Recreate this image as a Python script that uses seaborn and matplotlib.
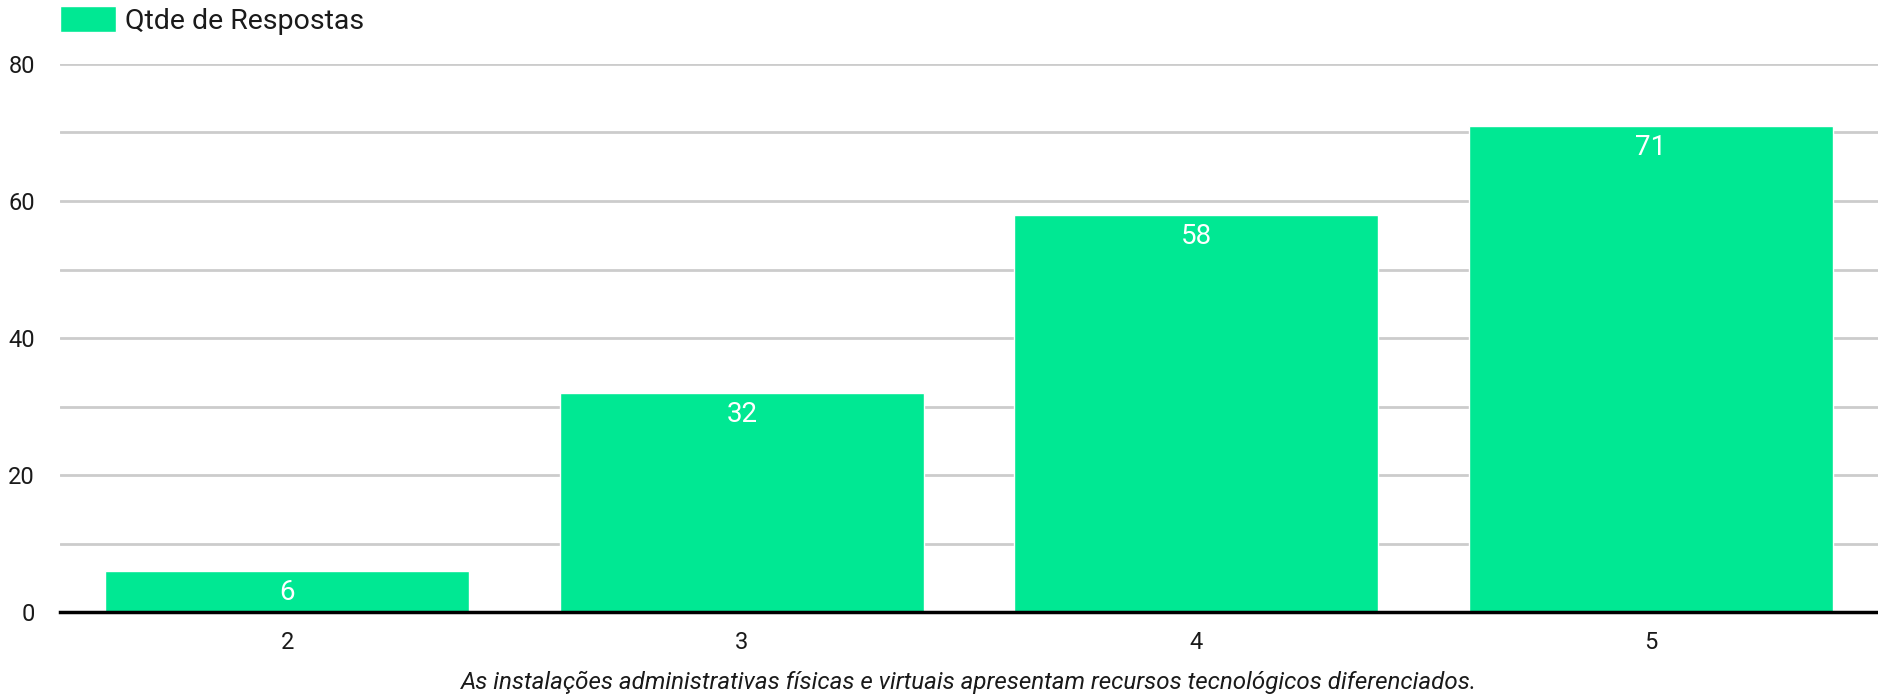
import matplotlib
matplotlib.use("Agg")
import matplotlib.pyplot as plt
import seaborn as sns
import pandas as pd
from matplotlib.ticker import MultipleLocator

categories = ["2", "3", "4", "5"]
values = [6, 32, 58, 71]
series_name = "Qtde de Respostas"
x_title = "As instalações administrativas físicas e virtuais apresentam recursos tecnológicos diferenciados."

sns.set_theme(style="white")
plt.rcParams["font.family"] = ["Roboto", "DejaVu Sans"]

W, H = 1878, 697
fig = plt.figure(figsize=(W / 100, H / 100), dpi=100)
ax = fig.add_axes([60 / W, 1 - 612 / H, (W - 60) / W, (612 - 64) / H])

df = pd.DataFrame({"cat": categories, "val": values})
color = "#00E893"
sns.barplot(data=df, x="cat", y="val", color=color, saturation=1, width=0.8, ax=ax,
            label=series_name, zorder=3)

ax.set_ylim(0, 80)
ax.set_xlim(-0.5, len(categories) - 0.5)
ax.yaxis.set_major_locator(MultipleLocator(20))
ax.yaxis.set_minor_locator(MultipleLocator(10))
ax.grid(axis="y", which="both", color="#cccccc", linewidth=2, zorder=0)
ax.grid(axis="x", visible=False)
for s in ["top", "right", "left"]:
    ax.spines[s].set_visible(False)
ax.spines["bottom"].set_color("black")
ax.spines["bottom"].set_linewidth(2.5)
ax.spines["bottom"].set_zorder(5)

ax.tick_params(axis="y", which="both", length=0, labelsize=17, pad=18, labelcolor="#1a1a1a")
ax.tick_params(axis="x", length=0, labelsize=17, pad=14, labelcolor="#1a1a1a")
ax.set_ylabel("")
ax.set_xlabel(x_title, fontsize=17.4, style="italic", color="#1a1a1a", labelpad=12)

for p in ax.patches:
    h = p.get_height()
    ax.annotate(f"{int(round(h))}", (p.get_x() + p.get_width() / 2, h),
                xytext=(0, -6), textcoords="offset points", ha="center", va="top",
                fontsize=20, color="white", zorder=6)

handles, labels = ax.get_legend_handles_labels()
ax.legend(handles, labels, loc="upper left", bbox_to_anchor=(60 / W, 1 - 6 / H),
          bbox_transform=fig.transFigure, frameon=False, fontsize=20.5,
          handlelength=1.97, handleheight=1.02, handletextpad=0.3,
          borderpad=0, borderaxespad=0, labelcolor="#1a1a1a")

fig.savefig("out.png", dpi=100)
